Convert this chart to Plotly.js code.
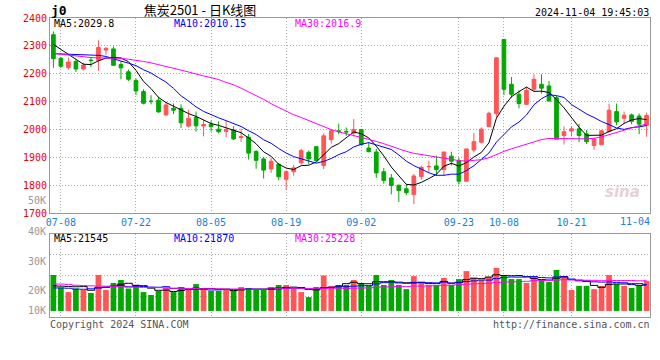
<!DOCTYPE html>
<html><head><meta charset="utf-8">
<script src="https://cdn.plot.ly/plotly-3.0.1.min.js"></script>
<style>html,body{margin:0;padding:0;background:#fff;}#chart{width:660px;height:360px;}</style>
</head><body><div id="chart"></div>
<script>
// ---- data (index 0 = 07-05 ... 79 = 11-04) ----
const opens  = [2340,2255,2222,2244,2217,2249,2248,2285,2289,2233,
                2207,2176,2136,2102,2105,2052,2076,2076,2012,2043,
                2012,2019,2001,1993,1998,1971,1972,1921,1894,1858,
                1875,1821,1848,1880,1918,1938,1870,1963,1995,1993,
                1987,2000,1933,1919,1848,1826,1800,1787,1766,1831,
                1866,1869,1856,1904,1888,1814,1926,1954,2010,2057,
                2323,2162,2126,2090,2144,2162,2156,2114,1978,1994,
                2002,1984,1942,1945,1992,2064,2040,2052,2048,2015];
const highs  = [2352,2260,2258,2251,2240,2257,2320,2296,2298,2245,
                2215,2183,2144,2123,2117,2099,2093,2090,2070,2064,
                2033,2031,2029,2031,2011,2003,1984,1925,1901,1898,
                1878,1854,1872,1930,1924,1940,1986,2001,2021,2007,
                2037,2000,1954,1930,1862,1840,1800,1803,1840,1870,
                1888,1906,1919,1920,1898,1930,1987,2007,2064,2260,
                2323,2188,2140,2152,2198,2198,2174,2120,2011,2011,
                2020,1998,1969,1998,2093,2093,2064,2057,2057,2060];
const lows   = [2221,2220,2215,2206,2212,2224,2210,2268,2228,2180,
                2174,2124,2090,2090,2060,2049,2055,2005,2007,1992,
                1975,1992,1986,1972,1962,1955,1892,1859,1824,1844,
                1818,1783,1834,1874,1876,1888,1858,1950,1983,1977,
                1974,1942,1918,1826,1805,1767,1740,1764,1732,1820,
                1845,1834,1834,1870,1802,1814,1918,1950,2010,2043,
                2123,2114,2076,2088,2136,2129,2100,1965,1946,1975,
                1954,1948,1927,1945,1989,2015,2019,2019,1983,1974];
const closes = [2254,2227,2242,2217,2231,2247,2294,2291,2230,2221,
                2180,2138,2094,2100,2063,2088,2069,2024,2040,2013,
                2018,2010,1992,1999,1966,1974,1915,1889,1854,1886,
                1830,1848,1862,1924,1894,1888,1977,1995,1992,1991,
                2000,1945,1920,1844,1817,1799,1781,1773,1833,1864,
                1867,1856,1919,1886,1814,1930,1956,2001,2058,2257,
                2144,2126,2093,2140,2180,2148,2102,1965,1992,2002,
                1978,1956,1966,1995,2069,2027,2051,2029,2019,2050];
const volumes = [25100,20800,19300,20500,20000,19000,25100,20000,22400,23400,
                 20500,21700,19300,18300,19700,20800,19300,21000,20000,22000,
                 20000,19700,19700,20000,19700,21000,20700,20000,20000,21000,
                 21700,21700,20500,19300,17600,21000,24900,21400,21700,21700,
                 23400,22400,21400,25100,21700,23400,21700,20300,24700,22400,
                 21700,21700,24100,21700,23700,26400,24100,23400,24400,27500,
                 25100,23700,23700,22400,24700,23400,22700,26800,24700,20000,
                 21400,21400,20300,21400,25100,22000,21400,20700,21400,23100];
// moving-average values before enough history exists
const ma5Head  = [2305,2288,2270,2252];
const ma10Head = [2272,2271,2270,2270,2269,2268,2266,2262,2255];
const ma30Head = [2273,2270,2267,2263,2260,2258,2257,2257,2256,2255,2252,2249,2244,2239,2233,
                  2227,2220,2213,2206,2198,2192,2186,2179,2169,2160,2148,2135,2121,2108];
const volMa5Head  = [21400,21300,21200,21100];
const volMa10Head = [20700,20700,20600,20300,20250,20400,20700,21000,21200];
const volMa30Head = [22000,22000,21900,21600,21500,21400,21300,21300,21200,21100,21000,21000,20900,20900,20800,
                     20700,20600,20600,20500,20500,20400,20400,20400,20300,20300,20300,20250,20250,20250];
const xLabelIdx = [1,11,21,31,41,54,60,69,79];
const xLabels   = ['07-08','07-22','08-05','08-19','09-02','09-23','10-08','10-21','11-04'];
const priceTicks = [1700,1800,1900,2000,2100,2200,2300,2400];
const volTickLabels = ['40K','30K','20K','10K'];
const priceLegend = ['MA5:2029.8','MA10:2010.15','MA30:2016.9'];
const volLegend   = ['MA5:21545','MA10:21870','MA30:25228'];
const titleText = '焦炭2501 - 日K线图';
const stampText = '2024-11-04 19:45:03';

// ---- styles ----
const RED = '#ff5555', GREEN = '#00a800';
const MONO = 'DejaVu Sans Mono, Liberation Mono, monospace';
const maColors = ['#000000', '#0000ff', '#ff00ff'];
const volBase = 12900;

const idx = closes.map((_, i) => i);
function movingAvg(vals, n, head) {
  return vals.map((v, i) => {
    if (i < n - 1) return head[i];
    let s = 0; for (let k = i - n + 1; k <= i; k++) s += vals[k];
    return s / n;
  });
}
const priceMA = [movingAvg(closes, 5, ma5Head), movingAvg(closes, 10, ma10Head), movingAvg(closes, 30, ma30Head)];
const volMA = [movingAvg(volumes, 5, volMa5Head), movingAvg(volumes, 10, volMa10Head), movingAvg(volumes, 30, volMa30Head)];
const barColors = closes.map((c, i) => c >= opens[i] ? RED : GREEN);

const traces = [];
traces.push({type: 'candlestick', x: idx, open: opens, high: highs, low: lows, close: closes,
  xaxis: 'x', yaxis: 'y', whiskerwidth: 0, hoverinfo: 'skip',
  increasing: {line: {color: RED, width: 1}, fillcolor: RED},
  decreasing: {line: {color: GREEN, width: 1}, fillcolor: GREEN}});
priceMA.forEach((m, k) => traces.push({type: 'scatter', mode: 'lines', x: idx, y: m, xaxis: 'x', yaxis: 'y',
  line: {color: maColors[k], width: 1}, hoverinfo: 'skip'}));
traces.push({type: 'bar', x: idx, y: volumes.map(v => v - volBase), base: volBase, width: 0.76,
  marker: {color: barColors, line: {width: 0}}, xaxis: 'x2', yaxis: 'y2', hoverinfo: 'skip'});
volMA.forEach((m, k) => traces.push({type: 'scatter', mode: 'lines', x: idx, y: m, xaxis: 'x2', yaxis: 'y2',
  line: {color: maColors[k], width: 1, shape: 'hvh'}, hoverinfo: 'skip'}));

// pixel -> paper helpers (plot area 50..650 x 18..317)
const PX = x => (x - 50) / 600;
const PY = y => (317 - y) / 299;
function note(text, x, y, xanchor, color, size, extra) {
  return Object.assign({text: text, x: PX(x), y: PY(y), xref: 'paper', yref: 'paper', xanchor: xanchor,
    yanchor: 'middle', showarrow: false, borderpad: 0,
    font: {family: MONO, size: size || 10, color: color}}, extra || {});
}
const annotations = [
  note('j0', 50, 10, 'left', '#000', 13, {font: {family: MONO, size: 13, color: '#000', weight: 'bold'}}),
  note(stampText, 650, 12, 'right', '#000', 10),
  note(priceLegend[0], 53, 24, 'left', maColors[0]),
  note(priceLegend[1], 173, 24, 'left', maColors[1]),
  note(priceLegend[2], 294, 24, 'left', maColors[2]),
  note(volLegend[0], 53, 238, 'left', maColors[0]),
  note(volLegend[1], 173, 238, 'left', maColors[1]),
  note(volLegend[2], 294, 238, 'left', maColors[2]),
  note('50K', 47, 200, 'right', '#999'),
  note(volTickLabels[0], 47, 231, 'right', '#999'),
  note(volTickLabels[1], 47, 261, 'right', '#999'),
  note(volTickLabels[2], 47, 290, 'right', '#999'),
  note(volTickLabels[3], 47, 310, 'right', '#999'),
  note(xLabels[xLabels.length - 1], 651, 221, 'right', '#1a7fd4'),
  note('Copyright 2024 SINA.COM', 49, 324, 'left', '#555'),
  note('http://finance.sina.com.cn', 651, 324, 'right', '#555'),
  note('sina', 622, 192, 'center', '#e6d6d6', 15, {font: {family: 'DejaVu Sans', size: 15, color: '#e3d3d3', weight: 'bold', style: 'italic'}})
];

const gridDash = '1px,2px';
const layout = {
  width: 660, height: 360,
  margin: {l: 50, r: 10, t: 18, b: 43, pad: 0},
  paper_bgcolor: '#fff', plot_bgcolor: '#fff',
  showlegend: false,
  title: {text: titleText, x: 200 / 660, xanchor: 'center', y: 1 - 10 / 360, yanchor: 'middle',
    font: {family: 'Noto Sans CJK SC', size: 13, color: '#000'}},
  xaxis: {anchor: 'y', range: [-0.45, 79.45], rangeslider: {visible: false},
    tickmode: 'array', tickvals: xLabelIdx.slice(0, -1), ticktext: xLabels.slice(0, -1),
    tickfont: {family: MONO, size: 10, color: '#1a7fd4'}, ticks: '',
    showgrid: true, gridcolor: '#aaa', griddash: gridDash, gridwidth: 1,
    showline: true, mirror: true, linecolor: '#999', linewidth: 1, zeroline: false, fixedrange: true},
  yaxis: {domain: [PY(213), 1], range: [1700, 2400], tickmode: 'array', tickvals: priceTicks,
    tickfont: {family: MONO, size: 10, color: '#ee0000'}, ticks: '',
    showgrid: true, gridcolor: '#aaa', griddash: gridDash, gridwidth: 1,
    showline: true, mirror: true, linecolor: '#999', linewidth: 1, zeroline: false},
  xaxis2: {anchor: 'y2', matches: 'x', range: [-0.45, 79.45], showticklabels: false, ticks: '',
    tickmode: 'array', tickvals: xLabelIdx.slice(0, -1),
    showgrid: true, gridcolor: '#aaa', griddash: gridDash, gridwidth: 1,
    showline: true, mirror: true, linecolor: '#999', linewidth: 1, zeroline: false},
  yaxis2: {domain: [0, PY(234)], range: [10850, 38980], tick0: 10850, dtick: 7032.5,
    showticklabels: false, ticks: '',
    showgrid: true, gridcolor: '#aaa', griddash: gridDash, gridwidth: 1,
    showline: true, mirror: true, linecolor: '#999', linewidth: 1, zeroline: false},
  annotations: annotations
};
Plotly.newPlot('chart', traces, layout, {staticPlot: true, displayModeBar: false});
</script></body></html>
